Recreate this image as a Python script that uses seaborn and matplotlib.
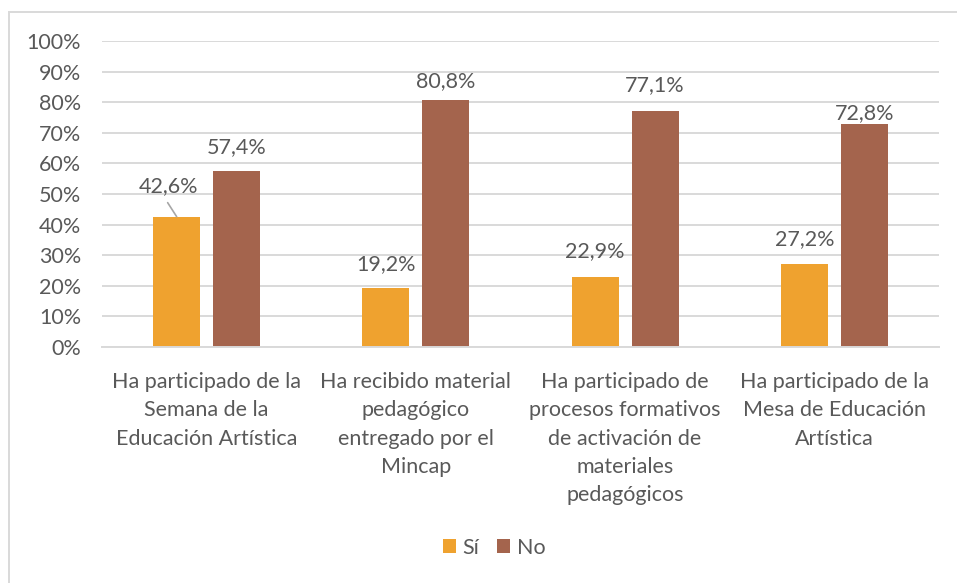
import matplotlib
matplotlib.use("Agg")
import matplotlib.pyplot as plt
from matplotlib.patches import Rectangle
import pandas as pd
import seaborn as sns

# Survey categories (x axis) and the share answering each option
categories = [
    "Ha participado de la\nSemana de la\nEducación Artística",
    "Ha recibido material\npedagógico\nentregado por el\nMincap",
    "Ha participado de\nprocesos formativos\nde activación de\nmateriales\npedagógicos",
    "Ha participado de la\nMesa de Educación\nArtística",
]
series = ["Sí", "No"]
si_values = [42.6, 19.2, 22.9, 27.2]
no_values = [57.4, 80.8, 77.1, 72.8]
y_ticks = [0, 10, 20, 30, 40, 50, 60, 70, 80, 90, 100]

colors = {"Sí": "#EFA22F", "No": "#A4644D"}
text_color = "#595959"
grid_color = "#D9D9D9"
font_size = 15.5

# label offsets in pixels (dx, dy) from each bar's top centre
label_offsets = {
    "Sí": [(-8, 31), (0, 24), (0, 26), (0, 25)],
    "No": [(0, 24), (0, 19), (0, 26), (0, 11)],
}

df = pd.DataFrame({
    "Pregunta": categories * 2,
    "Respuesta": [series[0]] * len(categories) + [series[1]] * len(categories),
    "Porcentaje": si_values + no_values,
})

sns.set_theme(style="white")
plt.rcParams["font.family"] = ["Lato", "DejaVu Sans"]

fig = plt.figure(figsize=(9.57, 5.83), dpi=100)
ax = fig.add_axes([102 / 957, 1 - 347 / 583, (939 - 102) / 957, (347 - 41) / 583])

sns.barplot(
    data=df, x="Pregunta", y="Porcentaje", hue="Respuesta",
    order=categories, hue_order=series, palette=colors,
    width=0.573, gap=0.217, linewidth=0, saturation=1, ax=ax, zorder=3,
)

ax.set_ylim(0, 100)
ax.set_xlim(-0.5, len(categories) - 0.5)
ax.set_yticks(y_ticks)
ax.set_yticklabels([f"{t}%" for t in y_ticks])
ax.yaxis.grid(True, color=grid_color, linewidth=1.4)
ax.set_axisbelow(True)
ax.set_xlabel("")
ax.set_ylabel("")
for side in ["left", "right", "top"]:
    ax.spines[side].set_visible(False)
ax.spines["bottom"].set_color(grid_color)
ax.spines["bottom"].set_linewidth(1.4)
ax.spines["bottom"].set_zorder(4)
ax.tick_params(axis="y", length=0, pad=15, labelsize=font_size, labelcolor=text_color)
ax.tick_params(axis="x", length=0, pad=18, labelsize=font_size, labelcolor=text_color)
for lab in ax.get_xticklabels():
    lab.set_linespacing(1.52)

# value labels on every bar
for name, container in zip(series, ax.containers):
    for bar, (dx, dy) in zip(container, label_offsets[name]):
        x = bar.get_x() + bar.get_width() / 2
        h = bar.get_height()
        ax.annotate(
            f"{h:.1f}%".replace(".", ","), xy=(x, h), xytext=(dx, dy),
            textcoords="offset pixels", ha="center", va="center",
            fontsize=font_size, color=text_color, zorder=5,
        )

# leader line for the displaced first label
first = ax.containers[0][0]
ax.annotate(
    "", xy=(first.get_x() + first.get_width() / 2, first.get_height()),
    xytext=(-9, 14), textcoords="offset pixels",
    arrowprops=dict(arrowstyle="-", color="#A6A6A6", lw=1.2, shrinkA=0, shrinkB=0),
)

leg = ax.legend(
    loc="center", bbox_to_anchor=(494 / 957, 1 - 548 / 583), bbox_transform=fig.transFigure,
    ncol=2, frameon=False, fontsize=font_size, handlelength=0.62, handleheight=0.62,
    handletextpad=0.3, columnspacing=0.8,
)
for t in leg.get_texts():
    t.set_color(text_color)

# chart-area border
fig.patches.append(Rectangle(
    (8.5 / 957, -0.1), 1.2, 1.1 - 12.5 / 583,
    transform=fig.transFigure, fill=False, edgecolor=grid_color, linewidth=1.4,
))

fig.savefig("out.png", dpi=100, facecolor="white")
